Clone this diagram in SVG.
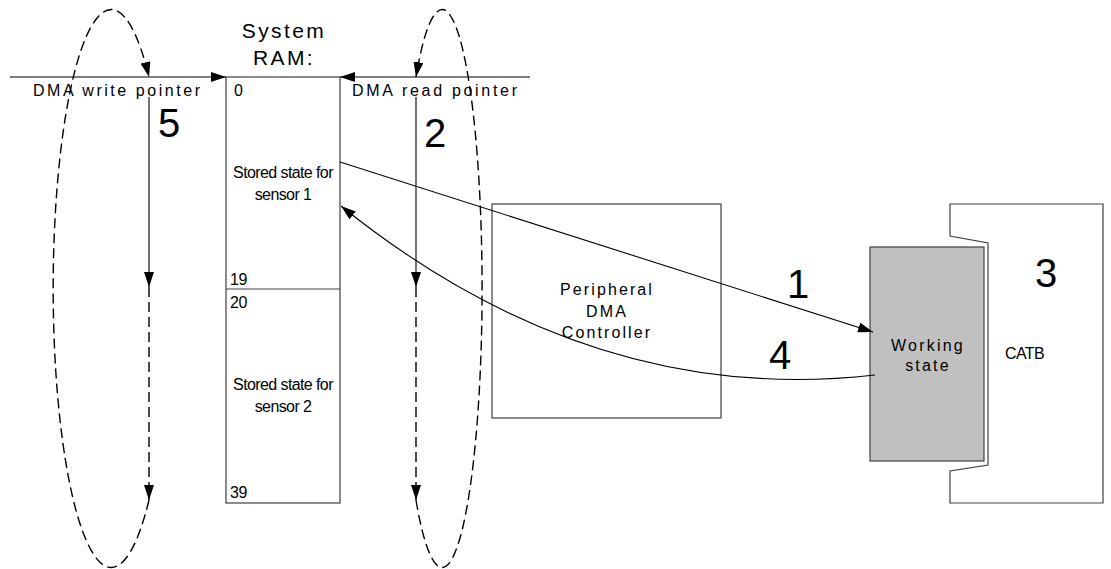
<svg xmlns="http://www.w3.org/2000/svg" width="1111" height="569" viewBox="0 0 1111 569">
<style>
.box{fill:none;stroke:#404040;stroke-width:1.2}
.ln{fill:none;stroke:#000;stroke-width:1.1}
.dash{fill:none;stroke:#000;stroke-width:1.4;stroke-dasharray:10 5}
.t{font-family:"Liberation Sans",Arial,sans-serif;fill:#000}
.big{font-family:"Liberation Sans",Arial,sans-serif;font-size:40px;fill:#000;text-anchor:middle}
.sp{font-family:"Liberation Sans",Arial,sans-serif;font-size:16px;fill:#000}
.nar{font-family:"Liberation Sans",Arial,sans-serif;font-size:16px;letter-spacing:-0.6px;fill:#000;text-anchor:middle}
.num{font-family:"Liberation Sans",Arial,sans-serif;font-size:16px;letter-spacing:-0.5px;fill:#000}
</style>
<defs>
<marker id="ah" markerUnits="userSpaceOnUse" markerWidth="15" markerHeight="10" refX="15" refY="5" orient="auto" viewBox="0 0 15 10">
<path d="M0,0 L15,5 L0,10 z" fill="#000"/>
</marker>
</defs>
<rect width="1111" height="569" fill="#fff"/>

<g id="ram">
<rect class="box" x="226" y="77" width="114" height="426"/>
<line class="box" x1="226" y1="289" x2="340" y2="289"/>
<text class="t" x="284" y="38" font-size="21" letter-spacing="2.4" text-anchor="middle">System</text>
<text class="t" x="284" y="65" font-size="21" letter-spacing="2.4" text-anchor="middle">RAM:</text>
<text class="num" x="234" y="96">0</text>
<text class="num" x="230" y="285">19</text>
<text class="num" x="230" y="308">20</text>
<text class="num" x="230" y="498">39</text>
<text class="nar" x="283" y="178">Stored state for</text>
<text class="nar" x="283" y="200">sensor 1</text>
<text class="nar" x="283" y="390">Stored state for</text>
<text class="nar" x="283" y="412">sensor 2</text>
</g>

<g id="write-pointer">
<text class="sp" x="33" y="96" textLength="167" lengthAdjust="spacing">DMA write pointer</text>
<text class="big" x="169" y="137">5</text>
</g>

<g id="read-pointer">
<text class="sp" x="352" y="96" textLength="165" lengthAdjust="spacing">DMA read pointer</text>
<text class="big" x="435" y="147">2</text>
</g>

<g id="dma-controller">
<rect class="box" x="492" y="204" width="229" height="214"/>
<text class="t" x="607" y="295" font-size="16" letter-spacing="2.1" text-anchor="middle">Peripheral</text>
<text class="t" x="607" y="317" font-size="16" letter-spacing="2.1" text-anchor="middle">DMA</text>
<text class="t" x="607" y="338" font-size="16" letter-spacing="2.1" text-anchor="middle">Controller</text>
</g>

<g id="catb">
<polygon class="box" points="950,204 1103,204 1103,503 950,503 950,471 988,465 988,243 950,236"/>
<text class="t" x="1005" y="359" font-size="16" letter-spacing="-0.6">CATB</text>
<text class="big" x="1046" y="287">3</text>
</g>

<g id="working-state">
<rect x="870" y="247" width="114" height="214" fill="#c0c0c0" stroke="#404040" stroke-width="1.2"/>
<text class="t" x="928" y="351" font-size="16" letter-spacing="2.2" text-anchor="middle">Working</text>
<text class="t" x="928" y="371" font-size="16" letter-spacing="2.2" text-anchor="middle">state</text>
</g>

<g id="labels">
<text class="big" x="798" y="298">1</text>
<text class="big" x="780" y="369">4</text>
</g>

<g id="connectors">
<line class="ln" x1="10" y1="77" x2="226" y2="77" marker-end="url(#ah)"/>
<line class="ln" x1="530" y1="77" x2="340" y2="77" marker-end="url(#ah)"/>
<line class="ln" x1="149" y1="97" x2="149" y2="287" marker-end="url(#ah)"/>
<line class="dash" x1="149" y1="287" x2="149" y2="500" marker-end="url(#ah)"/>
<path class="dash" d="M149,500 A58,279 0 1 1 149,77" marker-end="url(#ah)"/>
<line class="ln" x1="416" y1="97" x2="416" y2="287" marker-end="url(#ah)"/>
<line class="dash" x1="416" y1="287" x2="416" y2="500" marker-end="url(#ah)"/>
<path class="dash" d="M416,500 A40,279 0 1 0 416,77" marker-end="url(#ah)"/>
<line class="ln" x1="340" y1="162" x2="873" y2="332" marker-end="url(#ah)"/>
<path class="ln" d="M875,375 C700,395 520,350 341,206" marker-end="url(#ah)"/>
</g>
</svg>
